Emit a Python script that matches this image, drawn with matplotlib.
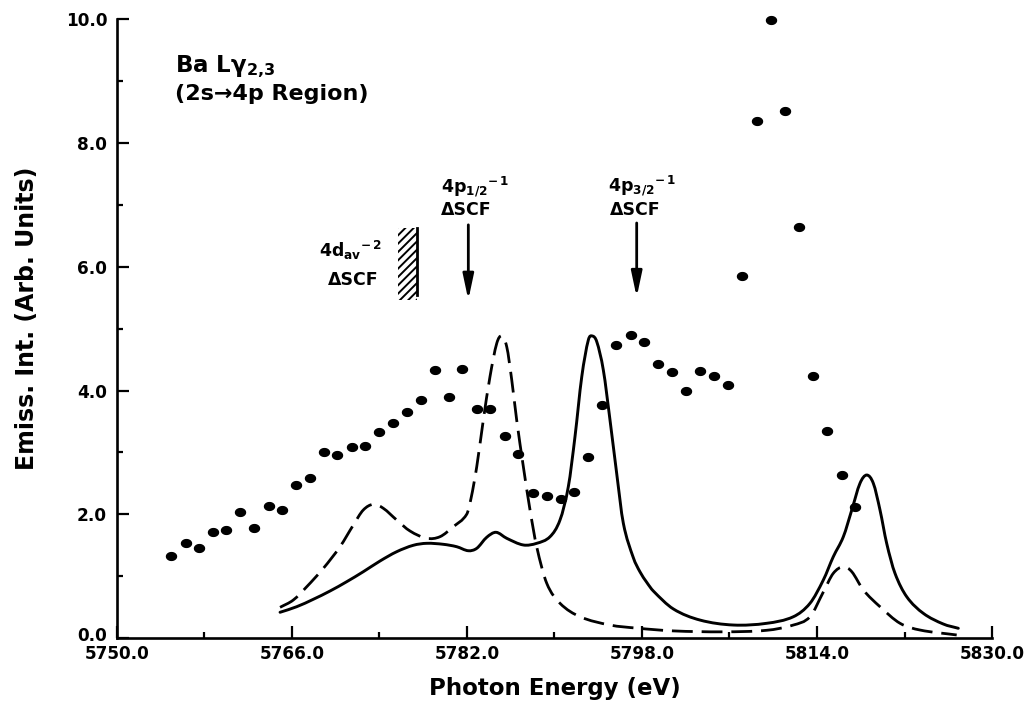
import matplotlib
matplotlib.use('Agg')
import matplotlib.pyplot as plt
import numpy as np
from matplotlib.path import Path
from matplotlib.patches import Rectangle, PathPatch
from matplotlib.ticker import FixedLocator, FormatStrFormatter
from matplotlib.transforms import ScaledTranslation

plt.rcParams['font.family'] = ['DejaVu Sans']
plt.rcParams['font.weight'] = 'bold'
plt.rcParams['mathtext.fontset'] = 'dejavusans'
plt.rcParams['mathtext.default'] = 'bf'
plt.rcParams['hatch.linewidth'] = 1.4

# ---- data ----
dots_x = [5754.93, 5756.30, 5757.51, 5758.77, 5760.01, 5761.29, 5762.57, 5763.88, 5765.13,
          5766.35, 5767.66, 5768.91, 5770.16, 5771.47, 5772.69, 5773.97, 5775.22, 5776.50,
          5777.78, 5779.06, 5780.34, 5781.58, 5782.90, 5784.11, 5785.48, 5786.70, 5788.04,
          5789.30, 5790.58, 5791.82, 5793.10, 5794.38, 5795.66, 5796.96, 5798.16, 5799.50,
          5800.75, 5802.03, 5803.35, 5804.59, 5805.89, 5807.15, 5808.52, 5809.80, 5811.11,
          5812.36, 5813.61, 5814.92, 5816.26, 5817.50]
dots_y = [1.326, 1.541, 1.455, 1.709, 1.746, 2.042, 1.779, 2.139, 2.074,
          2.479, 2.592, 3.002, 2.959, 3.093, 3.099, 3.326, 3.471, 3.649,
          3.853, 4.328, 3.901, 4.354, 3.703, 3.703, 3.261, 2.983, 2.349,
          2.296, 2.255, 2.365, 2.926, 3.767, 4.737, 4.891, 4.781, 4.430,
          4.306, 3.998, 4.317, 4.231, 4.089, 5.848, 8.356, 9.998, 8.521,
          6.640, 4.231, 3.340, 2.634, 2.118]

solid_x = [5764.92, 5766.44, 5767.96, 5769.49, 5771.01, 5772.53, 5774.06, 5775.58, 5777.10,
           5778.33, 5779.84, 5781.07, 5782.13, 5782.90, 5783.81, 5784.66, 5785.64, 5787.16,
           5788.38, 5789.60, 5790.51, 5791.27, 5791.88, 5792.50, 5793.10, 5793.46, 5793.87,
           5794.47, 5795.08, 5795.69, 5796.30, 5797.21, 5797.82, 5798.44, 5799.04, 5800.87,
           5803.31, 5806.35, 5809.41, 5811.84, 5813.36, 5814.58, 5815.49, 5816.41, 5817.18,
           5817.93, 5818.55, 5819.15, 5819.76, 5820.37, 5821.13, 5822.20, 5823.72, 5825.55,
           5826.92]
solid_y = [0.416, 0.506, 0.626, 0.760, 0.910, 1.072, 1.245, 1.395, 1.499,
           1.531, 1.515, 1.476, 1.411, 1.450, 1.628, 1.709, 1.612, 1.504,
           1.531, 1.638, 1.908, 2.446, 3.255, 4.225, 4.818, 4.883, 4.791,
           4.333, 3.525, 2.663, 1.855, 1.300, 1.070, 0.900, 0.760, 0.470,
           0.290, 0.210, 0.238, 0.344, 0.561, 0.938, 1.314, 1.638, 2.070,
           2.501, 2.635, 2.501, 2.070, 1.531, 1.046, 0.668, 0.399, 0.226,
           0.157]

dashed_x = [5764.92, 5766.13, 5767.36, 5768.88, 5770.40, 5771.62, 5772.53, 5773.45, 5774.36,
            5775.58, 5776.80, 5778.33, 5779.54, 5780.76, 5781.98, 5782.38, 5782.90, 5783.50,
            5784.11, 5784.73, 5785.18, 5785.64, 5786.10, 5786.55, 5787.16, 5787.77, 5788.38,
            5789.30, 5790.51, 5792.34, 5795.08, 5797.52, 5800.87, 5805.44, 5809.41, 5811.84,
            5813.36, 5814.58, 5815.49, 5816.41, 5817.18, 5818.24, 5819.76, 5821.59, 5823.42,
            5826.77]
dashed_y = [0.496, 0.614, 0.829, 1.127, 1.476, 1.827, 2.070, 2.162, 2.097,
            1.908, 1.730, 1.612, 1.638, 1.800, 2.000, 2.260, 2.770, 3.525,
            4.225, 4.765, 4.883, 4.710, 4.171, 3.525, 2.770, 2.070, 1.476,
            0.884, 0.561, 0.344, 0.210, 0.160, 0.115, 0.100, 0.125, 0.210,
            0.344, 0.744, 1.046, 1.153, 1.072, 0.776, 0.506, 0.238, 0.129,
            0.049]

x_major_ticks = [5750.0, 5766.0, 5782.0, 5798.0, 5814.0, 5830.0]
x_minor_ticks = [5758.0, 5774.0, 5790.0, 5806.0, 5822.0]
y_major_ticks = [0.0, 2.0, 4.0, 6.0, 8.0, 10.0]
y_minor_ticks = [1.0, 3.0, 5.0, 7.0, 9.0]
x_min, x_max = 5750.0, 5830.0
y_min, y_max = 0.0, 10.0


def smooth_path(xs, ys):
    """Smooth (cubic Hermite, Bezier-rendered) path passing through every read point."""
    x = np.asarray(xs, float)
    y = np.asarray(ys, float)
    n = len(x)
    m = np.empty(n)
    m[0] = (y[1] - y[0]) / (x[1] - x[0])
    m[-1] = (y[-1] - y[-2]) / (x[-1] - x[-2])
    m[1:-1] = (y[2:] - y[:-2]) / (x[2:] - x[:-2])
    verts = [(x[0], y[0])]
    codes = [Path.MOVETO]
    for i in range(n - 1):
        h = x[i + 1] - x[i]
        verts += [(x[i] + h / 3, y[i] + m[i] * h / 3),
                  (x[i + 1] - h / 3, y[i + 1] - m[i + 1] * h / 3),
                  (x[i + 1], y[i + 1])]
        codes += [Path.CURVE4] * 3
    return Path(verts, codes)


# ---- figure ----
fig = plt.figure(figsize=(10.31, 7.06), dpi=100)
ax = fig.add_axes([0.1133, 0.0963, 0.8489, 0.8761])

theta = np.linspace(0, 2 * np.pi, 41)
ell = Path(np.column_stack([np.cos(theta), 0.78 * np.sin(theta)]), closed=True)

ax.add_patch(PathPatch(smooth_path(solid_x, solid_y), fill=False, edgecolor='black',
                       lw=2.1, joinstyle='round', capstyle='round'))
ax.add_patch(PathPatch(smooth_path(dashed_x, dashed_y), fill=False, edgecolor='black',
                       lw=2.0, linestyle=(0, (7.5, 3.2)), capstyle='butt'))
ax.plot(dots_x, dots_y, linestyle='none', marker=ell, markersize=7.2,
        color='black', clip_on=False)

ax.set_xlim(x_min, x_max)
ax.set_ylim(y_min, y_max)

ax.spines['top'].set_visible(False)
ax.spines['right'].set_visible(False)
for s in ('left', 'bottom'):
    ax.spines[s].set_linewidth(1.9)

ax.xaxis.set_major_locator(FixedLocator(x_major_ticks))
ax.xaxis.set_minor_locator(FixedLocator(x_minor_ticks))
ax.yaxis.set_major_locator(FixedLocator(y_major_ticks))
ax.yaxis.set_minor_locator(FixedLocator(y_minor_ticks))
ax.xaxis.set_major_formatter(FormatStrFormatter('%.1f'))
ax.yaxis.set_major_formatter(FormatStrFormatter('%.1f'))

ax.tick_params(which='major', direction='in', length=8.5, width=1.6, labelsize=12.2)
ax.tick_params(which='minor', direction='in', length=4.5, width=1.6)
ax.tick_params(axis='x', which='major', pad=5)
ax.tick_params(axis='y', which='major', pad=7)
for lab in ax.get_xticklabels() + ax.get_yticklabels():
    lab.set_fontweight('bold')

# lift the "0.0" label a little so it clears the "5750.0" label below it
zero_lab = ax.yaxis.get_major_ticks()[0].label1
zero_lab.set_transform(zero_lab.get_transform() +
                       ScaledTranslation(0, 3 / 72, fig.dpi_scale_trans))

ax.set_xlabel('Photon Energy (eV)', fontsize=16.5, fontweight='bold', labelpad=10)
ax.set_ylabel('Emiss. Int. (Arb. Units)', fontsize=17, fontweight='bold')
ax.yaxis.set_label_coords(-0.089, 0.517)

# ---- annotations ----
ax.text(5755.32, 9.15, r'Ba L$\gamma_{2{,}3}$', fontsize=16.5, fontweight='bold',
        ha='left', va='baseline')
ax.text(5755.32, 8.70, '(2s\u21924p Region)', fontsize=16, fontweight='bold',
        ha='left', va='baseline')

ax.text(5782.74, 7.195, r'4p$_{1/2}{}^{-\,1}$', fontsize=12.5, ha='center', va='baseline')
ax.text(5781.97, 6.846, '\u0394SCF', fontsize=12.5, fontweight='bold', ha='center', va='baseline')
ax.text(5798.05, 7.22, r'4p$_{3/2}{}^{-\,1}$', fontsize=12.5, ha='center', va='baseline')
ax.text(5797.37, 6.846, '\u0394SCF', fontsize=12.5, fontweight='bold', ha='center', va='baseline')
ax.text(5771.41, 6.16, r'4d$_{av}{}^{-\,2}$', fontsize=12.5, ha='center', va='baseline')
ax.text(5771.64, 5.707, '\u0394SCF', fontsize=12.5, fontweight='bold', ha='center', va='baseline')

arrow_style = dict(arrowstyle='-|>,head_length=0.85,head_width=0.18', lw=2.0, color='black',
                   mutation_scale=18, shrinkA=0, shrinkB=0)
ax.annotate('', xy=(5782.13, 5.465), xytext=(5782.13, 6.68), arrowprops=arrow_style)
ax.annotate('', xy=(5797.52, 5.51), xytext=(5797.52, 6.71), arrowprops=arrow_style)

ax.add_patch(Rectangle((5775.67, 5.465), 1.74, 1.165, fill=False, hatch='////',
                       edgecolor='black', linewidth=0))
ax.plot([5777.41, 5777.41], [5.55, 6.63], color='black', lw=2.0)

fig.savefig('out.png', dpi=100)
